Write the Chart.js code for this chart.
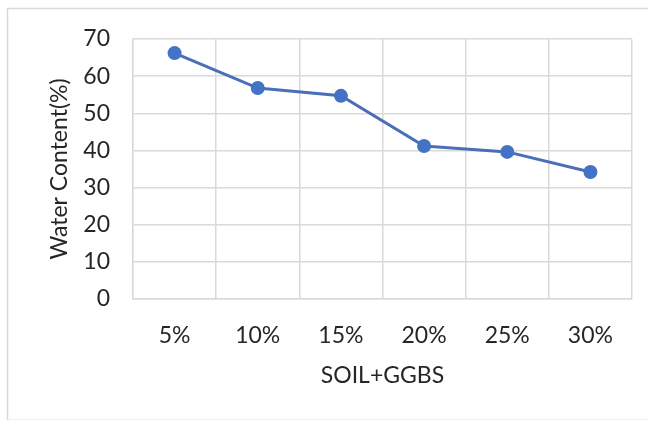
<!DOCTYPE html>
<html>
<head>
<meta charset="utf-8">
<script src="https://cdn.jsdelivr.net/npm/chart.js@4"></script>
<style>
  html, body { margin: 0; padding: 0; background: #ffffff; }
  #wrap { width: 657px; height: 421px; position: relative; }
</style>
</head>
<body>
<div id="wrap"><canvas id="chart" width="657" height="421"></canvas></div>
<script>
// GGBS content added to the soil
const categories = ['5%', '10%', '15%', '20%', '25%', '30%'];
// Water content (%) for each mix
const waterContent = [66.2, 56.8, 54.7, 41.2, 39.6, 34.2];
// Value axis ticks
const yTicks = [0, 10, 20, 30, 40, 50, 60, 70];

const FONT = 'Lato, "Open Sans", "Liberation Sans", sans-serif';
const TEXT = '#262626';
const GRID = '#d9d9d9';

// Light frame round the whole chart
const framePlugin = {
  id: 'frame',
  beforeDraw(chart) {
    const ctx = chart.ctx;
    ctx.save();
    ctx.fillStyle = '#ffffff';
    ctx.fillRect(0, 0, chart.width, chart.height);
    ctx.strokeStyle = GRID;
    ctx.lineWidth = 1.5;
    ctx.beginPath();
    ctx.moveTo(7.5, 420);
    ctx.lineTo(7.5, 8.5);
    ctx.lineTo(648, 8.5);
    ctx.stroke();
    ctx.strokeStyle = '#eeeeee';
    ctx.lineWidth = 1;
    ctx.beginPath();
    ctx.moveTo(7.5, 419.5);
    ctx.lineTo(648, 419.5);
    ctx.stroke();
    ctx.restore();
  }
};

new Chart(document.getElementById('chart'), {
  type: 'line',
  data: {
    labels: categories,
    datasets: [{
      data: waterContent,
      borderColor: '#4a6fb8',
      borderWidth: 3,
      backgroundColor: '#4472c4',
      pointBackgroundColor: '#4472c4',
      pointBorderColor: '#4472c4',
      pointRadius: 7,
      pointBorderWidth: 0,
      tension: 0,
      fill: false
    }]
  },
  options: {
    responsive: false,
    animation: false,
    events: [],
    layout: { padding: { left: 8, right: 25, top: 39, bottom: 32 } },
    plugins: {
      legend: { display: false },
      tooltip: { enabled: false }
    },
    scales: {
      x: {
        type: 'category',
        offset: true,
        grid: { offset: true, color: GRID, lineWidth: 1.5, drawTicks: false },
        border: { color: GRID, width: 1.5 },
        ticks: { color: TEXT, font: { family: FONT, size: 23 }, padding: 23, maxRotation: 0 },
        title: {
          display: true,
          text: 'SOIL+GGBS',
          color: TEXT,
          font: { family: FONT, size: 23 },
          padding: { top: 0, bottom: 0 }
        },
        afterFit(scale) { scale.height = 90; }
      },
      y: {
        min: 0,
        max: 70,
        afterBuildTicks(scale) { scale.ticks = yTicks.map(v => ({ value: v })); },
        grid: { color: GRID, lineWidth: 1.5, drawTicks: false },
        border: { color: GRID, width: 1.5 },
        ticks: { color: TEXT, font: { family: FONT, size: 23 }, padding: 23 },
        title: {
          display: true,
          text: 'Water Content(%)',
          color: TEXT,
          font: { family: FONT, size: 23 },
          padding: { top: 38, bottom: 0 }
        },
        afterFit(scale) { scale.width = 125; }
      }
    }
  },
  plugins: [framePlugin]
});
</script>
</body>
</html>
